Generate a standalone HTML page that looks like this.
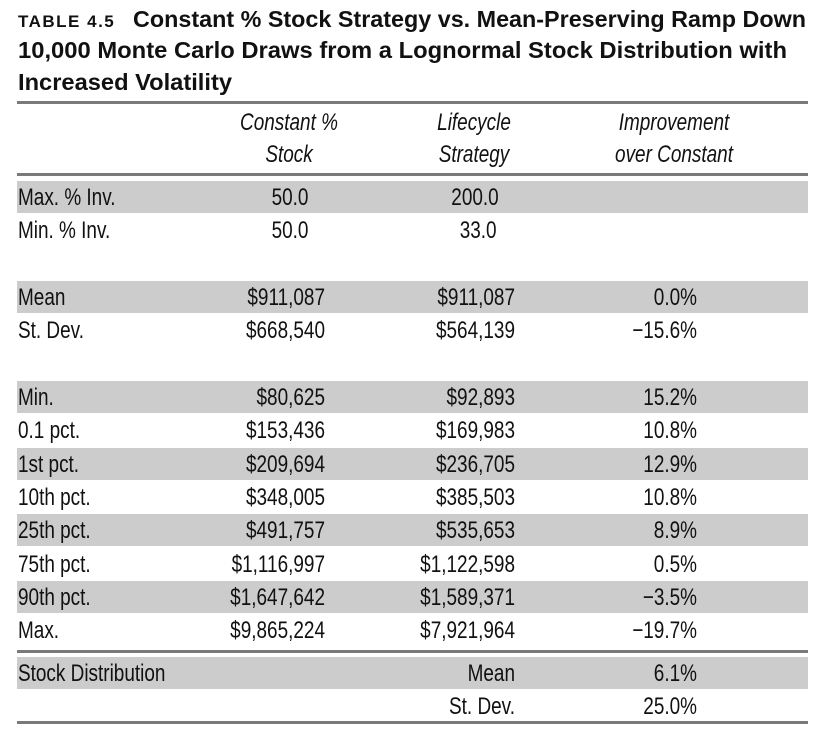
<!DOCTYPE html>
<html><head><style>body{margin:0;background:#fff}svg{display:block}</style></head><body>
<svg width="825" height="738" xmlns="http://www.w3.org/2000/svg" font-family="'Liberation Sans',sans-serif" font-size="24" fill="#111">
<g font-weight="bold">
<text x="18" y="27" font-size="17" letter-spacing="1.5">TABLE 4.5</text>
<text x="133" y="27" font-size="23" textLength="673" lengthAdjust="spacingAndGlyphs">Constant % Stock Strategy vs. Mean-Preserving Ramp Down</text>
<text x="18" y="58" font-size="23" textLength="769" lengthAdjust="spacingAndGlyphs">10,000 Monte Carlo Draws from a Lognormal Stock Distribution with</text>
<text x="18" y="90" font-size="23" textLength="214" lengthAdjust="spacingAndGlyphs">Increased Volatility</text>
</g>
<g fill="#7a7a7a">
<rect x="17" y="101" width="791" height="3"/>
<rect x="17" y="173" width="791" height="3"/>
<rect x="17" y="650" width="791" height="3"/>
<rect x="17" y="721" width="791" height="3"/>
</g>
<g fill="#cccccc">
<rect x="17" y="181" width="791" height="32"/>
<rect x="17" y="281" width="791" height="32"/>
<rect x="17" y="381" width="791" height="32"/>
<rect x="17" y="448" width="791" height="32"/>
<rect x="17" y="514" width="791" height="32"/>
<rect x="17" y="581" width="791" height="32"/>
<rect x="17" y="657" width="791" height="32"/>
</g>
<g font-style="italic" text-anchor="middle">
<g transform="translate(289,0) scale(0.79,1)"><text x="0" y="130">Constant %</text><text x="0" y="162">Stock</text></g>
<g transform="translate(474,0) scale(0.79,1)"><text x="0" y="130">Lifecycle</text><text x="0" y="162">Strategy</text></g>
<g transform="translate(674,0) scale(0.79,1)"><text x="0" y="130">Improvement</text><text x="0" y="162">over Constant</text></g>
</g>
<g transform="translate(18,0) scale(0.79,1)">
<text x="0" y="205">Max. % Inv.</text>
<text x="0" y="238">Min. % Inv.</text>
<text x="0" y="305">Mean</text>
<text x="0" y="338">St. Dev.</text>
<text x="0" y="405">Min.</text>
<text x="0" y="438">0.1 pct.</text>
<text x="0" y="472">1st pct.</text>
<text x="0" y="505">10th pct.</text>
<text x="0" y="538">25th pct.</text>
<text x="0" y="572">75th pct.</text>
<text x="0" y="605">90th pct.</text>
<text x="0" y="638">Max.</text>
<text x="0" y="681">Stock Distribution</text>
</g>
<g text-anchor="middle">
<g transform="translate(290,0) scale(0.79,1)"><text x="0" y="205">50.0</text><text x="0" y="238">50.0</text></g>
<g transform="translate(475,0) scale(0.79,1)"><text x="0" y="205">200.0</text><text x="4" y="238">33.0</text></g>
</g>
<g text-anchor="end">
<g transform="translate(325,0) scale(0.79,1)">
<text x="0" y="305">$911,087</text><text x="0" y="338">$668,540</text><text x="0" y="405">$80,625</text><text x="0" y="438">$153,436</text><text x="0" y="472">$209,694</text><text x="0" y="505">$348,005</text><text x="0" y="538">$491,757</text><text x="0" y="572">$1,116,997</text><text x="0" y="605">$1,647,642</text><text x="0" y="638">$9,865,224</text>
</g>
<g transform="translate(515,0) scale(0.79,1)">
<text x="0" y="305">$911,087</text><text x="0" y="338">$564,139</text><text x="0" y="405">$92,893</text><text x="0" y="438">$169,983</text><text x="0" y="472">$236,705</text><text x="0" y="505">$385,503</text><text x="0" y="538">$535,653</text><text x="0" y="572">$1,122,598</text><text x="0" y="605">$1,589,371</text><text x="0" y="638">$7,921,964</text><text x="0" y="681">Mean</text><text x="0" y="714">St. Dev.</text>
</g>
<g transform="translate(697,0) scale(0.79,1)">
<text x="0" y="305">0.0%</text><text x="0" y="338">−15.6%</text><text x="0" y="405">15.2%</text><text x="0" y="438">10.8%</text><text x="0" y="472">12.9%</text><text x="0" y="505">10.8%</text><text x="0" y="538">8.9%</text><text x="0" y="572">0.5%</text><text x="0" y="605">−3.5%</text><text x="0" y="638">−19.7%</text><text x="0" y="681">6.1%</text><text x="0" y="714">25.0%</text>
</g>
</g>
</svg>
</body></html>
